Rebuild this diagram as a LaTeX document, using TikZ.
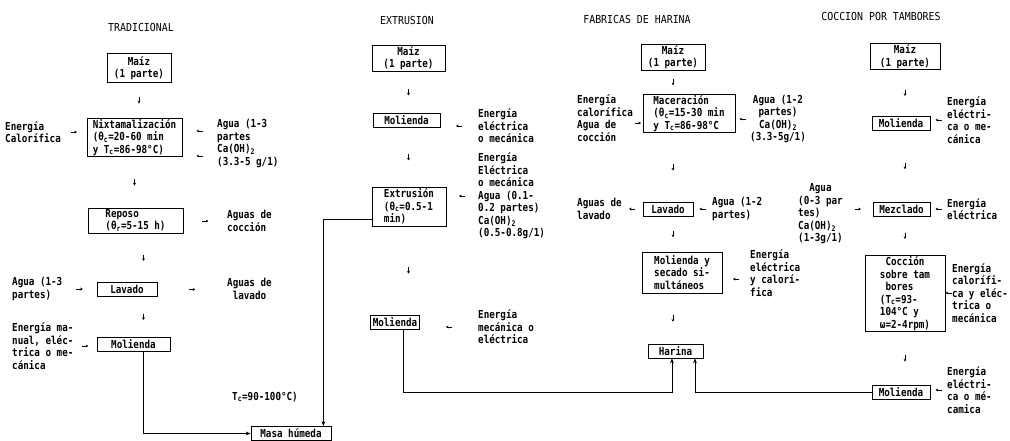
\documentclass[tikz,border=0pt]{standalone}
\usepackage{fontspec}
\setmainfont{DejaVu Sans Mono}[FakeStretch=0.84]
\newfontfamily\titlefont{DejaVu Sans Mono}[FakeStretch=0.9]
\usetikzlibrary{calc,arrows.meta}
\tikzset{
  every node/.style={font=\fontsize{11}{12.5}\selectfont\bfseries, inner sep=0pt},
  ttl/.style={font=\titlefont\fontsize{11}{12}\selectfont},
  box/.style={draw, line width=0.8pt, inner xsep=2.5pt, inner ysep=1.2pt, align=left},
  cbox/.style={box, align=center},
  txt/.style={anchor=west, align=left},
  ctxt/.style={anchor=west, align=center},
  stub/.style={line width=0.7pt, -{Stealth[length=2.6pt,width=2.8pt]},
    to path={($(\tikztostart)!0.5!(\tikztotarget)!3.2pt!(\tikztostart)$) -- ($(\tikztostart)!0.5!(\tikztotarget)!3.2pt!(\tikztotarget)$)}},
  flow/.style={line width=0.8pt, -{Stealth[length=5pt,width=3.8pt]}},
}
\begin{document}
\begin{tikzpicture}[x=1pt,y=-1pt]
\fill[white] (0,0) rectangle (1010,441);
\useasboundingbox (0,0) rectangle (1010,441);

% TRADICIONAL
\node[ttl] (t1) at (141,27) {TRADICIONAL};
\node[cbox, minimum width=64pt, minimum height=29pt] (m1) at (139,68) {Maíz\\(1 parte)};
\node[box, minimum width=95pt, minimum height=37pt] (nixt) at (134.5,137.5) {Nixtamalización\\(θ\textsubscript{c}=20-60 min\\y T\textsubscript{c}=86-98°C)};
\node[box, minimum width=95pt, minimum height=25pt] (rep) at (135.5,220.5) {Reposo\\(θ\textsubscript{r}=5-15 h)};
\node[cbox, minimum width=60pt, minimum height=14pt] (lav1) at (127,289.5) {Lavado};
\node[cbox, minimum width=73pt, minimum height=14pt] (mol1) at (133.5,344) {Molienda};
\node[cbox, minimum width=80pt, minimum height=14pt] (masa) at (291,433.5) {Masa húmeda};

\node[txt] (e1) at (5,132) {Energía\\Calorífica};
\node[txt] (a1a) at (217,131) {Agua (1-3\\partes};
\node[txt] (a1b) at (217,156) {Ca(OH)\textsubscript{2}\\(3.3-5 g/1)};
\node[txt] (s1) at (227,221) {Aguas de\\cocción};
\node[txt] (a2) at (12,289) {Agua (1-3\\partes)};
\node[ctxt] (s2) at (227,289) {Aguas de\\lavado};
\node[txt] (e2) at (12,346) {Energía ma-\\nual, eléc-\\trica o me-\\cánica};
\node[txt] (tc) at (232,397) {T\textsubscript{c}=90-100°C)};

\draw[stub] (m1.south) to (m1.south |- nixt.north);
\draw[stub] (nixt.south) to (nixt.south |- rep.north);
\draw[stub] ([xshift=8pt]rep.south) to ([xshift=8pt]rep.south |- lav1.north);
\draw[stub] ([xshift=8pt]rep.south |- lav1.south) to ([xshift=8pt]rep.south |- mol1.north);
\draw[stub] (e1.east) to (e1.east -| nixt.west);
\draw[stub] (a1a.west) to (a1a.west -| nixt.east);
\draw[stub] (a1b.west) to (a1b.west -| nixt.east);
\draw[stub] (rep.east |- s1.west) to (s1.west);
\draw[stub] (a2.east) to (a2.east -| lav1.west);
\draw[stub] (lav1.east) to (lav1.east -| s2.west);
\draw[stub] (e2.east) to (e2.east -| mol1.west);

% EXTRUSION
\node[ttl] (t2) at (407,20) {EXTRUSION};
\node[cbox, minimum width=73pt, minimum height=26pt] (m2) at (408.5,58) {Maíz\\(1 parte)};
\node[cbox, minimum width=67pt, minimum height=14pt] (mol2) at (406.5,120.5) {Molienda};
\node[box, minimum width=74pt, minimum height=39pt] (ext) at (409,206.5) {Extrusión\\(θ\textsubscript{c}=0.5-1\\min)};
\node[cbox, minimum width=48pt, minimum height=14pt] (mol3) at (395,322) {Molienda};

\node[txt] (e3) at (478,126) {Energía\\eléctrica\\o mecánica};
\node[txt] (e4) at (478,196) {Energía\\Eléctrica\\o mecánica\\Agua (0.1-\\0.2 partes)\\Ca(OH)\textsubscript{2}\\(0.5-0.8g/1)};
\node[txt] (e5) at (478,327) {Energía\\mecánica o\\eléctrica};

\draw[stub] (m2.south) to (m2.south |- mol2.north);
\draw[stub] (m2.south |- mol2.south) to (m2.south |- ext.north);
\draw[stub] (m2.south |- ext.south) to (m2.south |- mol3.north);
\draw[stub] (e3.west) to (e3.west -| mol2.east);
\draw[stub] (e4.west) to (e4.west -| ext.east);
\draw[stub] (e5.west) to (e5.west -| mol3.east);

% FABRICAS DE HARINA
\node[ttl] (t3) at (637,19) {FABRICAS DE HARINA};
\node[cbox, minimum width=64pt, minimum height=25pt] (m3) at (673,57) {Maíz\\(1 parte)};
\node[box, minimum width=92pt, minimum height=37pt] (mac) at (689,113.5) {Maceración\\(θ\textsubscript{c}=15-30 min\\y T\textsubscript{c}=86-98°C};
\node[cbox, minimum width=50pt, minimum height=14pt] (lav3) at (668,209) {Lavado};
\node[box, minimum width=80pt, minimum height=41pt] (ms) at (682,272.5) {Molienda y\\secado si-\\multáneos};
\node[cbox, minimum width=55pt, minimum height=14pt] (har) at (675.5,351) {Harina};

\node[txt] (e6) at (577,118) {Energía\\calorífica\\Agua de\\cocción};
\node[ctxt] (a3) at (750,119) {Agua (1-2\\partes)\\Ca(OH)\textsubscript{2}\\(3.3-5g/1)};
\node[txt] (s3) at (577,209) {Aguas de\\lavado};
\node[txt] (a4) at (712,209) {Agua (1-2\\partes)};
\node[txt] (e7) at (750,273) {Energía\\eléctrica\\y calorí-\\fica};

\draw[stub] (m3.south) to (m3.south |- mac.north);
\draw[stub] (m3.south |- mac.south) to (m3.south |- lav3.north);
\draw[stub] (m3.south |- lav3.south) to (m3.south |- ms.north);
\draw[stub] (m3.south |- ms.south) to (m3.south |- har.north);
\draw[stub] ([yshift=-5pt]e6.east) to ([yshift=-5pt]e6.east -| mac.west);
\draw[stub] (a3.west) to (a3.west -| mac.east);
\draw[stub] (lav3.west) to (lav3.west -| s3.east);
\draw[stub] (a4.west) to (a4.west -| lav3.east);
\draw[stub] ([yshift=-6pt]e7.west) to ([yshift=-6pt]e7.west -| ms.east);

% COCCION POR TAMBORES
\node[ttl] (t4) at (881,16) {COCCION POR TAMBORES};
\node[cbox, minimum width=70pt, minimum height=25pt] (m4) at (905,56.5) {Maíz\\(1 parte)};
\node[cbox, minimum width=58pt, minimum height=14pt] (mol4) at (901,123) {Molienda};
\node[cbox, minimum width=57pt, minimum height=14pt] (mez) at (901.5,209) {Mezclado};
\node[box, minimum width=80pt, minimum height=75pt] (coc) at (905,293.5) {\hphantom{x}Cocción\\sobre tam\\\hphantom{x}bores\\(T\textsubscript{c}=93-\\104°C y\\ω=2-4rpm)};
\node[cbox, minimum width=58pt, minimum height=14pt] (mol5) at (901,392) {Molienda};

\node[txt] (e8) at (947,120) {Energía\\eléctri-\\ca o me-\\cánica};
\node[txt] (e9) at (947,209) {Energía\\eléctrica};
\node[txt] (a5) at (798,214) {\hphantom{xx}Agua\\(0-3 par\\tes)\\Ca(OH)\textsubscript{2}\\(1-3g/1)};
\node[txt] (e10) at (952,293) {Energía\\calorífi-\\ca y eléc-\\trica o\\mecánica};
\node[txt] (e11) at (947,390) {Energía\\eléctri-\\ca o mé-\\camica};

\draw[stub] (m4.south) to (m4.south |- mol4.north);
\draw[stub] (m4.south |- mol4.south) to (m4.south |- mez.north);
\draw[stub] (m4.south |- mez.south) to (m4.south |- coc.north);
\draw[stub] (m4.south |- coc.south) to (m4.south |- mol5.north);
\draw[stub] (e8.west) to (e8.west -| mol4.east);
\draw[stub] (e9.west) to (e9.west -| mez.east);
\draw[stub] (a5.east |- mez.west) to (mez.west);
\draw[stub] (e10.west) to (e10.west -| coc.east);
\draw[stub] (e11.west) to (e11.west -| mol5.east);

% long connectors
\coordinate (bus) at (0,392);
\draw[flow] ([xshift=10pt]mol1.south) |- (masa.west);
\draw[flow] ([yshift=-13pt]ext.west) -| ([xshift=-8pt]masa.north east);
\draw[flow] ([xshift=8pt]mol3.south) -- ([xshift=8pt]mol3.south |- bus) -| ([xshift=-3.5pt]har.south);
\draw[flow] (mol5.west) -| ([xshift=19.5pt]har.south);
\end{tikzpicture}
\end{document}
